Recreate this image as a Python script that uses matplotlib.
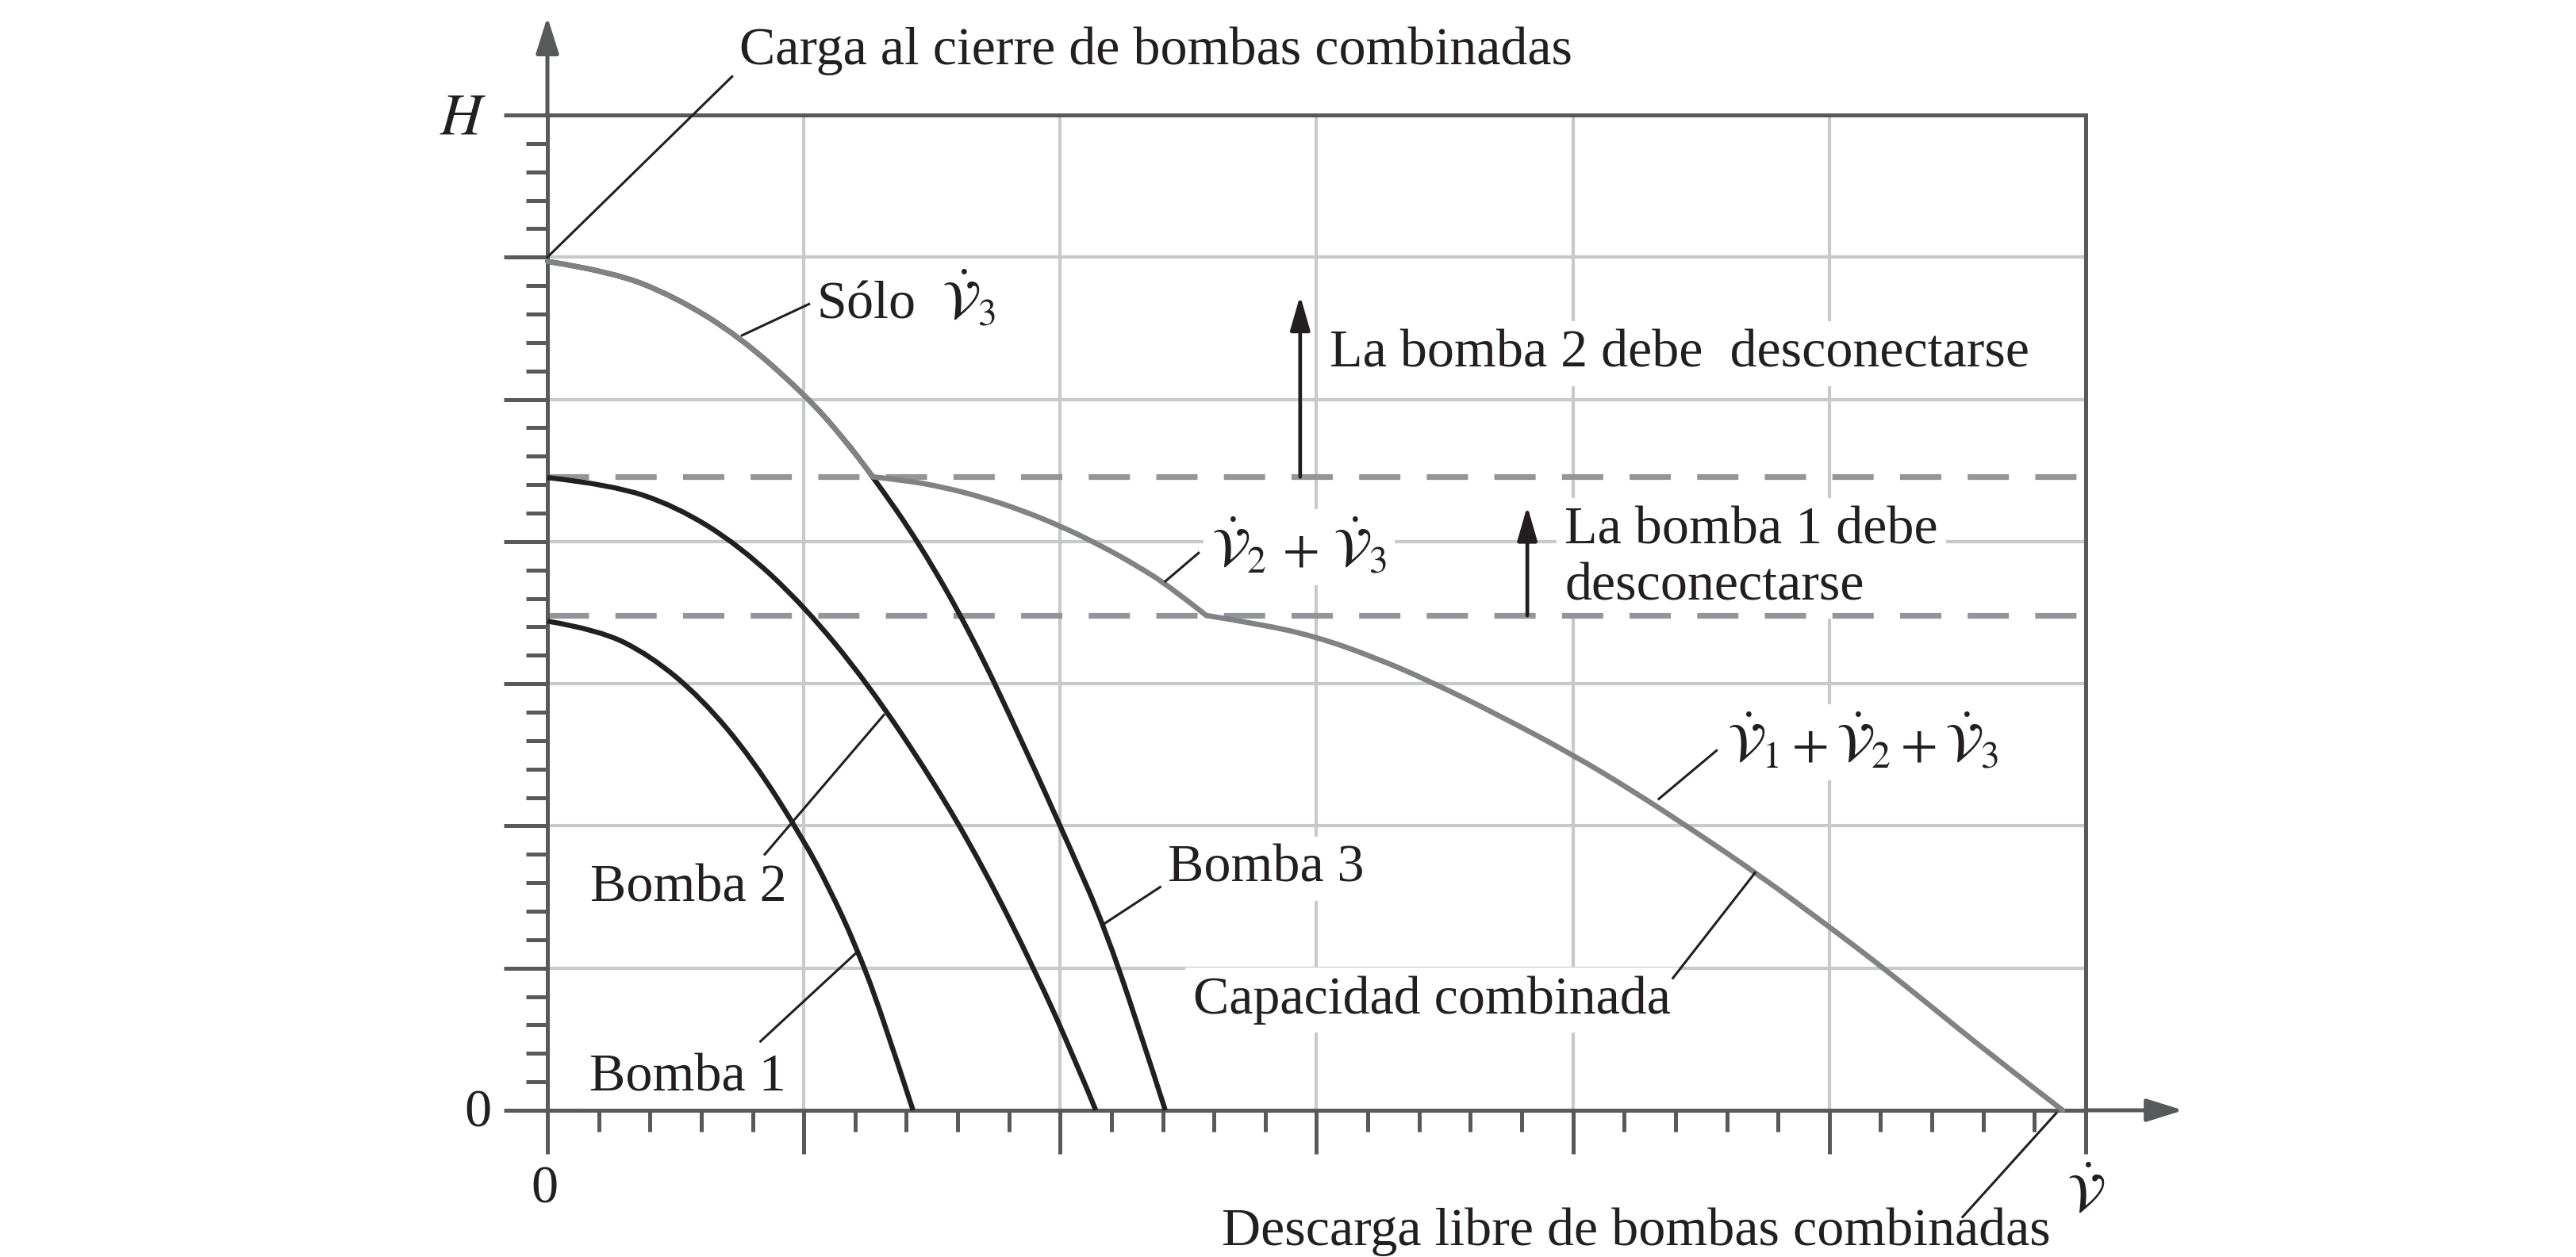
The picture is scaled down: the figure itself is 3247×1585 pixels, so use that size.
import matplotlib.pyplot as plt
from matplotlib.ticker import MultipleLocator
from matplotlib.path import Path
from matplotlib.patches import PathPatch

plt.rcParams['font.family'] = ['Liberation Serif', 'DejaVu Serif']
plt.rcParams['mathtext.fontset'] = 'stix'

# curvas (caudal, carga) en unidades de la cuadricula
q_bomba1 = [0, 0.2, 0.4, 0.6, 0.8, 1.0, 1.1, 1.2, 1.3, 1.426]
h_bomba1 = [3.44, 3.38, 3.20, 2.90, 2.47, 1.90, 1.56, 1.17, 0.70, 0]

q_bomba2 = [0, 0.25, 0.5, 0.75, 1.0, 1.25, 1.5, 1.7, 1.9, 2.05, 2.139]
h_bomba2 = [4.45, 4.40, 4.25, 3.97, 3.55, 3.00, 2.33, 1.71, 0.99, 0.39, 0]

q_bomba3 = [0, 0.25, 0.5, 0.75, 1.0, 1.15, 1.27, 1.45, 1.65, 1.85, 2.05, 2.17, 2.30, 2.41]
h_bomba3 = [5.97, 5.90, 5.72, 5.44, 5.04, 4.74, 4.455, 3.99, 3.36, 2.60, 1.80, 1.30, 0.62, 0]

# capacidad combinada: solo 3, luego 2+3, luego 1+2+3
q_solo3 = [0, 0.25, 0.5, 0.75, 1.0, 1.15, 1.27]
h_solo3 = [5.97, 5.90, 5.72, 5.44, 5.04, 4.74, 4.455]
q_23 = [1.27, 1.40, 1.55, 1.70, 1.85, 2.0, 2.15, 2.30, 2.43, 2.57]
h_23 = [4.455, 4.43, 4.38, 4.31, 4.22, 4.11, 3.98, 3.83, 3.68, 3.48]
q_123 = [2.57, 2.78, 3.0, 3.22, 3.44, 3.72, 4.0, 4.23, 4.46, 4.73, 5.0, 5.19, 5.37, 5.63, 5.91]
h_123 = [3.48, 3.42, 3.33, 3.19, 3.02, 2.77, 2.5, 2.25, 1.98, 1.65, 1.29, 1.03, 0.77, 0.39, 0]

h_corte2 = 4.455   # bomba 2 debe desconectarse
h_corte1 = 3.48    # bomba 1 debe desconectarse

c_eje = '#58595b'
c_grid = '#c8c9ca'
c_negro = '#231f20'
c_gris = '#808285'
c_guion = '#939598'
fs = 24.5


def suave(q, h):
    # trazo suave por los puntos leidos (curvas cuadraticas de matplotlib)
    pts = list(zip(q, h))
    verts = [pts[0]]
    codes = [Path.MOVETO]
    n = len(pts)
    for i in range(1, n - 1):
        if i < n - 2:
            fin = ((pts[i][0] + pts[i + 1][0]) / 2, (pts[i][1] + pts[i + 1][1]) / 2)
        else:
            fin = pts[-1]
        verts += [pts[i], fin]
        codes += [Path.CURVE3, Path.CURVE3]
    return Path(verts, codes)


fig = plt.figure(figsize=(16.24, 7.925), dpi=200)
ax = fig.add_axes([690 / 3248, 185 / 1585, 1939 / 3248, 1255 / 1585])
ax.set_xlim(0, 6)
ax.set_ylim(0, 7)

ax.xaxis.set_major_locator(MultipleLocator(1))
ax.yaxis.set_major_locator(MultipleLocator(1))
ax.xaxis.set_minor_locator(MultipleLocator(0.2))
ax.yaxis.set_minor_locator(MultipleLocator(0.2))
ax.tick_params(which='major', direction='out', length=19.8, width=1.8, color=c_eje,
               labelleft=False, labelbottom=False)
ax.tick_params(which='minor', direction='out', length=9.7, width=1.8, color=c_eje)
for s in ax.spines.values():
    s.set_color(c_eje)
    s.set_linewidth(1.8)
ax.set_axisbelow(True)
ax.grid(True, which='major', color=c_grid, lw=1.5)

# flechas de los ejes
ax.annotate('', xy=(6.38, 0), xytext=(6.0, 0), annotation_clip=False,
            arrowprops=dict(arrowstyle='-|>,head_length=0.7,head_width=0.22', mutation_scale=20,
                            color=c_eje, lw=1.8, shrinkA=0, shrinkB=0))
ax.annotate('', xy=(0, 7.69), xytext=(0, 7.0), annotation_clip=False,
            arrowprops=dict(arrowstyle='-|>,head_length=0.7,head_width=0.22', mutation_scale=20,
                            color=c_eje, lw=1.8, shrinkA=0, shrinkB=0))

# lineas de corte
ax.hlines([h_corte2, h_corte1], 0, 6, colors=c_guion, lw=2.6, linestyles=[(0, (7.2, 4.6))], zorder=2.5)

# curvas
for q, h in [(q_bomba1, h_bomba1), (q_bomba2, h_bomba2), (q_bomba3, h_bomba3)]:
    ax.add_patch(PathPatch(suave(q, h), fill=False, ec=c_negro, lw=2.3, zorder=3, clip_on=False))
for q, h in [(q_solo3, h_solo3), (q_23, h_23), (q_123, h_123)]:
    ax.add_patch(PathPatch(suave(q, h), fill=False, ec=c_gris, lw=2.4, zorder=4, clip_on=False,
                           joinstyle='round', capstyle='round'))

# flechas de desconexion
flecha = dict(arrowstyle='-|>,head_length=0.66,head_width=0.19', mutation_scale=20,
              color=c_negro, lw=1.7, shrinkA=0, shrinkB=0)
ax.annotate('', xy=(2.936, 5.73), xytext=(2.936, h_corte2), arrowprops=flecha)
ax.annotate('', xy=(3.822, 4.25), xytext=(3.822, h_corte1), arrowprops=flecha)

caja = dict(boxstyle='square,pad=0.15', fc='white', ec='none')


def rotulo(x, y, s, **kw):
    ax.text(x, y, s, fontsize=fs, color=c_negro, va='center', ha='left',
            bbox=caja, zorder=2, clip_on=False, **kw)


def guia(x0, y0, x1, y1):
    ax.plot([x0, x1], [y0, y1], color=c_negro, lw=1.1, zorder=5, clip_on=False)


rotulo(0.749, 7.45, 'Carga al cierre de bombas combinadas')
guia(0, 6.0, 0.72, 7.27)

rotulo(1.05, 5.70, 'Sólo  $\\dot{\\mathcal{V}}_3$')
guia(0.759, 5.45, 1.02, 5.67)

rotulo(3.05, 5.32, 'La bomba 2 debe  desconectarse')
rotulo(3.967, 3.88, 'La bomba 1 debe\ndesconectarse', linespacing=1.2)

rotulo(2.59, 3.96, '$\\dot{\\mathcal{V}}_2\\,+\\,\\dot{\\mathcal{V}}_3$')
guia(2.41, 3.72, 2.54, 3.92)

rotulo(4.60, 2.59, '$\\dot{\\mathcal{V}}_1 + \\dot{\\mathcal{V}}_2 + \\dot{\\mathcal{V}}_3$')
guia(4.335, 2.19, 4.56, 2.53)

rotulo(2.42, 1.70, 'Bomba 3')
guia(2.17, 1.31, 2.39, 1.57)

rotulo(2.52, 0.775, 'Capacidad combinada')
guia(4.71, 1.67, 4.39, 0.93)

rotulo(0.167, 1.56, 'Bomba 2')
guia(1.312, 2.78, 0.848, 1.80)

rotulo(0.165, 0.23, 'Bomba 1')
guia(1.2, 1.10, 0.831, 0.485)

rotulo(2.63, -0.855, 'Descarga libre de bombas combinadas')
guia(5.885, -0.02, 5.52, -0.75)

# rotulos de ejes
ax.text(-0.33, 6.97, '$H$', fontsize=fs + 2, color=c_negro, ha='center', va='center', clip_on=False)
ax.text(-0.27, -0.02, '0', fontsize=fs, color=c_negro, ha='center', va='center', clip_on=False)
ax.text(-0.01, -0.56, '0', fontsize=fs, color=c_negro, ha='center', va='center', clip_on=False)
ax.text(6.0, -0.60, '$\\dot{\\mathcal{V}}$', fontsize=fs, color=c_negro, ha='center', va='center', clip_on=False)

fig.savefig('out.png', dpi=200, facecolor='white')
